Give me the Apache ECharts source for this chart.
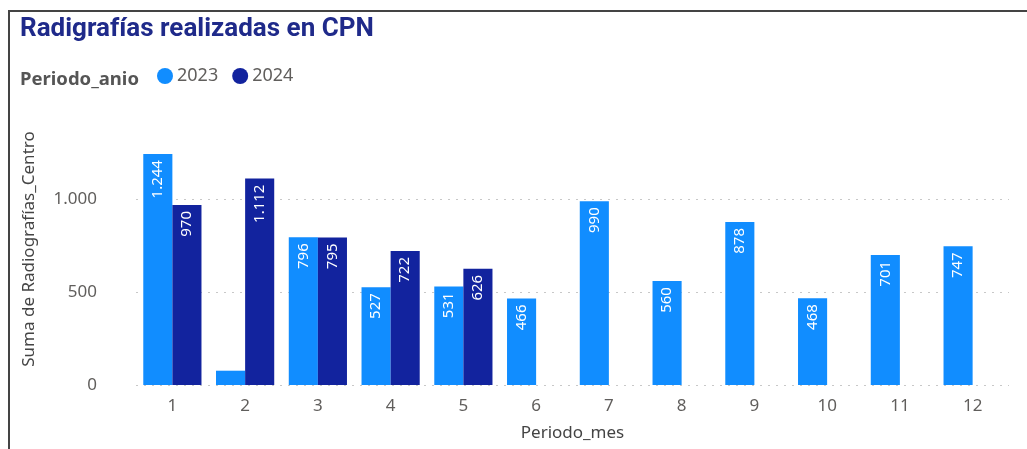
<!DOCTYPE html>
<html>
<head>
<meta charset="utf-8">
<script src="https://cdn.jsdelivr.net/npm/echarts@6/dist/echarts.min.js"></script>
<style>
  html, body { margin: 0; padding: 0; background: #fff; }
  #chart { width: 1027px; height: 449px; }
</style>
</head>
<body>
<div id="chart"></div>
<script>
// datos del grafico
var meses = ['1', '2', '3', '4', '5', '6', '7', '8', '9', '10', '11', '12'];
var valores2023 = [1244, 77, 796, 527, 531, 466, 990, 560, 878, 468, 701, 747];
var valores2024 = [970, 1112, 795, 722, 626, null, null, null, null, null, null, null];
var ticksY = [0, 500, 1000];

function miles(v) {
    return String(v).replace(/\B(?=(\d{3})+(?!\d))/g, '.');
}

var fuente = '"Noto Sans", sans-serif';
var etiqueta = {
    show: true,
    position: 'insideTop',
    rotate: 90,
    align: 'right',
    verticalAlign: 'middle',
    distance: 6,
    color: '#fff',
    fontSize: 15,
    fontFamily: fuente,
    formatter: function (p) {
        return p.value < 150 ? '' : miles(p.value);
    }
};

var chart = echarts.init(document.getElementById('chart'));
var option = {
    animation: false,
    backgroundColor: '#fff',
    title: [{
        text: 'Radigrafías realizadas en CPN',
        left: 15,
        top: 11,
        textStyle: { color: '#1F2A8A', fontSize: 26, fontWeight: 'bold', fontFamily: '"Roboto", sans-serif' }
    }, {
        text: 'Periodo_anio',
        left: 15,
        top: 65,
        textStyle: { color: '#555', fontSize: 18.5, fontWeight: 'bold', fontFamily: fuente }
    }],
    legend: {
        left: 157,
        top: 67,
        padding: 0,
        icon: 'circle',
        itemWidth: 16,
        itemHeight: 16,
        itemGap: 14,
        textStyle: { color: '#605E5C', fontSize: 18, fontFamily: fuente, padding: [0, 0, 0, -1] },
        data: ['2023', '2024']
    },
    grid: { left: 136, right: 18, top: 153, bottom: 64 },
    xAxis: {
        type: 'category',
        data: meses,
        name: 'Periodo_mes',
        nameLocation: 'middle',
        nameGap: 40,
        nameTextStyle: { color: '#444', fontSize: 17, fontFamily: fuente },
        axisLine: { show: false },
        axisTick: { show: false },
        axisLabel: { color: '#605E5C', fontSize: 17, fontFamily: fuente, margin: 13 }
    },
    yAxis: {
        type: 'value',
        min: 0,
        max: 1250,
        interval: 500,
        name: 'Suma de Radiografías_Centro',
        nameLocation: 'middle',
        nameGap: 98,
        nameTextStyle: { color: '#444', fontSize: 17, fontFamily: fuente, padding: [0, 0, 0, 40] },
        axisLabel: {
            color: '#605E5C',
            fontSize: 17,
            fontFamily: fuente,
            margin: 39,
            showMaxLabel: false,
            formatter: function (v) { return ticksY.indexOf(v) >= 0 ? miles(v) : ''; }
        },
        splitLine: { showMaxLine: false, lineStyle: { color: '#c8c8c8', type: [2, 6], width: 1 } }
    },
    series: [{
        name: '2023',
        type: 'bar',
        data: valores2023,
        barGap: '0%',
        barCategoryGap: '20%',
        itemStyle: { color: '#118DFF' },
        label: etiqueta
    }, {
        name: '2024',
        type: 'bar',
        data: valores2024,
        itemStyle: { color: '#12239E' },
        label: etiqueta
    }],
    graphic: [{
        type: 'polyline',
        shape: { points: [[9, 449], [9, 11], [1027, 11]] },
        style: { stroke: '#444', lineWidth: 2, fill: null }
    }]
};
chart.setOption(option);
</script>
</body>
</html>
